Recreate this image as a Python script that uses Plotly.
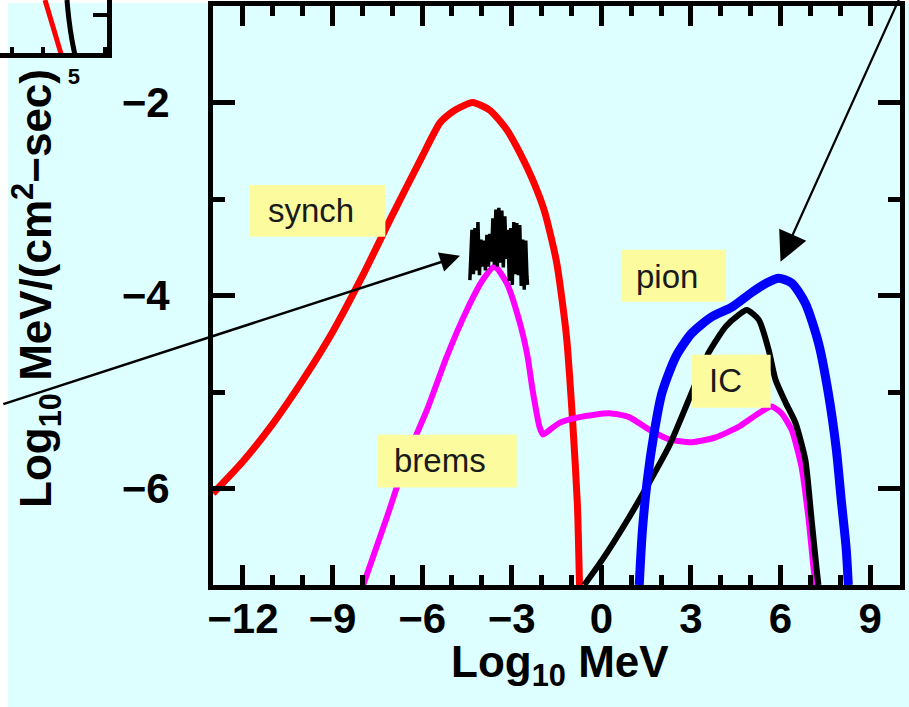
import plotly.graph_objects as go

# ---------------- data ----------------
synch_x = [-13.0, -12.0, -11.0, -10.0, -9.0, -8.0, -7.0, -6.0, -5.4, -5.0, -4.73, -4.3,
           -3.73, -3.17, -2.73, -2.3, -1.9, -1.5, -1.17, -0.96, -0.8, -0.73]
synch_y = [-6.05, -5.72, -5.33, -4.88, -4.38, -3.80, -3.17, -2.56, -2.21, -2.10, -2.05, -2.0,
           -2.08, -2.28, -2.52, -2.80, -3.13, -3.65, -4.41, -5.30, -6.17, -7.0]

brems_x = [-7.97, -7.17, -6.5, -5.83, -5.17, -4.5, -3.97, -3.57, -3.17, -2.73, -2.47,
           -2.3, -2.07, -1.95, -1.84, -1.4, -0.73, 0.27, 0.93, 1.6, 2.27, 3.03, 3.83,
           4.6, 5.27, 5.7, 6.03, 6.37, 6.7, 6.93, 7.1, 7.17]
brems_y = [-7.0, -6.29, -5.67, -5.18, -4.63, -4.15, -3.84, -3.70, -3.87, -4.28, -4.63,
           -4.98, -5.36, -5.44, -5.42, -5.32, -5.26, -5.22, -5.26, -5.39, -5.49, -5.52,
           -5.47, -5.36, -5.22, -5.15, -5.22, -5.39, -5.77, -6.29, -6.81, -7.0]

pion_x = [1.27, 1.37, 1.53, 1.77, 2.03, 2.5, 3.03, 3.7, 4.37, 5.03, 5.6, 5.93, 6.37,
          6.83, 7.27, 7.6, 7.87, 8.03, 8.2, 8.27]
pion_y = [-7.0, -6.46, -5.94, -5.42, -5.01, -4.63, -4.39, -4.22, -4.12, -3.97, -3.86,
          -3.82, -3.87, -4.08, -4.49, -5.01, -5.60, -6.11, -6.63, -7.0]

ic_x = [-0.57, 0.03, 0.83, 1.6, 2.27, 2.93, 3.6, 4.17, 4.6, 4.87, 5.27, 5.6, 5.83,
        6.17, 6.5, 6.83, 7.03, 7.2, 7.27]
ic_y = [-7.0, -6.74, -6.35, -5.94, -5.56, -5.08, -4.59, -4.32, -4.2, -4.15, -4.25,
        -4.56, -4.87, -5.11, -5.32, -5.70, -6.29, -6.81, -7.0]

obs_x = [-4.40, -4.36, -4.33, -4.28, -4.23, -4.18, -4.13, -4.08, -4.03, -3.98, -3.93,
         -3.88, -3.83, -3.78, -3.73, -3.68, -3.63, -3.58, -3.53, -3.48, -3.43, -3.38,
         -3.33, -3.28, -3.23, -3.18, -3.13, -3.08, -3.03, -2.98, -2.93, -2.88, -2.83,
         -2.78, -2.73, -2.68, -2.63, -2.58, -2.53, -2.49, -2.47]
obs_y = [-3.84, -3.40, -3.32, -3.78, -3.30, -3.74, -3.24, -3.79, -3.42, -3.70, -3.43,
         -3.74, -3.37, -3.70, -3.36, -3.65, -3.20, -3.68, -3.11, -3.70, -3.09, -3.66,
         -3.12, -3.71, -3.18, -3.62, -3.32, -3.85, -3.30, -3.89, -3.24, -3.78, -3.25,
         -3.79, -3.27, -3.90, -3.42, -3.94, -3.43, -3.80, -3.89]

# fragment of a neighbouring panel (top-left corner)
inset_red_x = [4.065, 4.323, 4.613]
inset_red_y = [1.0, 0.49, -0.075]
inset_black_x = [4.774, 4.839, 4.935, 5.032]
inset_black_y = [1.0, 0.623, 0.245, -0.038]

labels = ["synch", "brems", "pion", "IC"]
label_x = [-9.73, -5.4, 2.2, 4.17]
label_y = [-3.123, -5.711, -3.806, -4.883]
box_x0 = [-11.77, -7.5, 0.667, 3.03]
box_x1 = [-7.23, -2.83, 4.17, 5.67]
box_y0 = [-3.392, -5.99, -4.065, -5.163]
box_y1 = [-2.854, -5.442, -3.527, -4.614]

x_range = [-13, 10]
y_range = [-7, -1]
x_major_ticks = [-12, -9, -6, -3, 0, 3, 6, 9]
x_minor_ticks = [-11, -10, -8, -7, -5, -4, -2, -1, 1, 2, 4, 5, 7, 8]
y_major_ticks = [-6, -4, -2]
y_minor_ticks = [-5, -3]

# ---------------- styling ----------------
W, H = 909, 707
BG = "#DDFFFF"
YEL = "#FCFC9E"
FAM = "Liberation Sans, Arial, sans-serif"
AX = dict(family=FAM, size=42, color="black", weight="bold")

fig = go.Figure()

fig.add_trace(go.Scatter(x=synch_x, y=synch_y, mode="lines",
                         line=dict(color="#FF0000", width=7, shape="spline", smoothing=0.6)))
fig.add_trace(go.Scatter(x=brems_x, y=brems_y, mode="lines",
                         line=dict(color="#FF00FF", width=6, shape="spline", smoothing=0.6)))
fig.add_trace(go.Scatter(x=ic_x, y=ic_y, mode="lines",
                         line=dict(color="black", width=6, shape="spline", smoothing=0.6)))
fig.add_trace(go.Scatter(x=pion_x, y=pion_y, mode="lines",
                         line=dict(color="#0000FF", width=9, shape="spline", smoothing=0.7)))
fig.add_trace(go.Scatter(x=obs_x, y=obs_y, mode="lines",
                         line=dict(color="black", width=3.5)))

# empty trace so that the minor-tick overlay axes are drawn
fig.add_trace(go.Scatter(x=[], y=[], xaxis="x3", yaxis="y3", mode="lines"))

fig.add_trace(go.Scatter(x=inset_red_x, y=inset_red_y, mode="lines", xaxis="x2", yaxis="y2",
                         line=dict(color="#FF0000", width=5)))
fig.add_trace(go.Scatter(x=inset_black_x, y=inset_black_y, mode="lines", xaxis="x2", yaxis="y2",
                         line=dict(color="black", width=5, shape="spline")))

shapes = [
    dict(type="rect", xref="paper", yref="paper", x0=0, x1=8 / W, y0=0, y1=1,
         fillcolor="white", line=dict(width=0), layer="below"),
    dict(type="rect", xref="paper", yref="paper", x0=0, x1=1, y0=1 - 3 / H, y1=1,
         fillcolor="white", line=dict(width=0), layer="below"),
]
for i in range(len(labels)):
    shapes.append(dict(type="rect", xref="x", yref="y", x0=box_x0[i], x1=box_x1[i],
                       y0=box_y0[i], y1=box_y1[i], fillcolor=YEL,
                       line=dict(width=0), layer="above"))

annotations = []
for i, t in enumerate(labels):
    annotations.append(dict(x=label_x[i], y=label_y[i], xref="x", yref="y", text=t,
                            showarrow=False, xanchor="center", yanchor="middle",
                            font=dict(family=FAM, size=33, color="#1a1a1a")))
# arrows
annotations.append(dict(x=-4.73, y=-3.589, ax=-20.07, ay=-5.131, xref="x", yref="y",
                        axref="x", ayref="y", text="", showarrow=True, arrowhead=2,
                        arrowsize=1.6, arrowwidth=2.5, arrowcolor="black"))
annotations.append(dict(x=6.0, y=-3.651, ax=10.03, ay=-0.887, xref="x", yref="y",
                        axref="x", ayref="y", text="", showarrow=True, arrowhead=2,
                        arrowsize=2.7, arrowwidth=2.2, arrowcolor="black"))
# axis titles
annotations.append(dict(x=560 / W, y=1 - 665 / H, xref="paper", yref="paper",
                        text="Log<sub>10</sub> MeV", showarrow=False,
                        xanchor="center", yanchor="middle",
                        font=dict(family=FAM, size=44, color="black", weight="bold")))
annotations.append(dict(x=36 / W, y=1 - 289 / H, xref="paper", yref="paper",
                        text="Log<sub>10</sub> MeV/(cm<sup>2</sup>−sec)", showarrow=False,
                        textangle=-90, xanchor="center", yanchor="middle",
                        font=dict(family=FAM, size=44, color="black", weight="bold")))

frame = dict(showgrid=False, zeroline=False, automargin=False,
             showline=True, linecolor="black", linewidth=5, mirror="ticks",
             ticks="inside", tickwidth=5, tickcolor="black")

fig.update_layout(
    width=W, height=H,
    margin=dict(l=0, r=0, t=0, b=0),
    paper_bgcolor=BG, plot_bgcolor=BG,
    showlegend=False,
    shapes=shapes, annotations=annotations,
    xaxis=dict(domain=[213 / W, 900 / W], range=x_range, anchor="y",
               tickvals=x_major_ticks, ticklen=20, tickfont=AX, **frame),
    yaxis=dict(domain=[1 - 585 / H, 1 - 6 / H], range=y_range, anchor="x",
               tickvals=y_major_ticks, ticklen=22, tickfont=AX, ticklabelstandoff=30,
               **frame),
    xaxis3=dict(overlaying="x", anchor="y3", side="bottom", range=x_range,
                tickvals=x_minor_ticks, ticklen=10, showticklabels=False,
                showgrid=False, zeroline=False, showline=False, mirror="ticks",
                ticks="inside", tickwidth=5, tickcolor="black"),
    yaxis3=dict(overlaying="y", anchor="x3", side="left", range=y_range,
                tickvals=y_minor_ticks, ticklen=12, showticklabels=False,
                showgrid=False, zeroline=False, showline=False, mirror="ticks",
                ticks="inside", tickwidth=5, tickcolor="black"),
    xaxis2=dict(domain=[0, 107 / W], range=[2.613, 6.065], anchor="y2",
                showgrid=False, zeroline=False, automargin=False,
                showline=True, linecolor="black", linewidth=5,
                ticks="inside", tickvals=[3, 4, 5, 6], ticktext=["", "", "5", ""],
                ticklen=6, tickwidth=4, tickcolor="black",
                tickfont=dict(family=FAM, size=22, color="black", weight="bold")),
    yaxis2=dict(domain=[1 - 53 / H, 1], range=[0, 1], anchor="x2", side="right",
                showgrid=False, zeroline=False, automargin=False,
                showline=True, linecolor="black", linewidth=5,
                ticks="inside", tickvals=[0.717], ticklen=14, tickwidth=4,
                tickcolor="black", showticklabels=False),
)
try:
    fig.update_xaxes(ticklabelstandoff=-7, selector=dict(anchor="y"))
except Exception:
    pass

fig.write_html("out.html", config={"displayModeBar": False},
               post_script="document.body.style.margin='0px';")
